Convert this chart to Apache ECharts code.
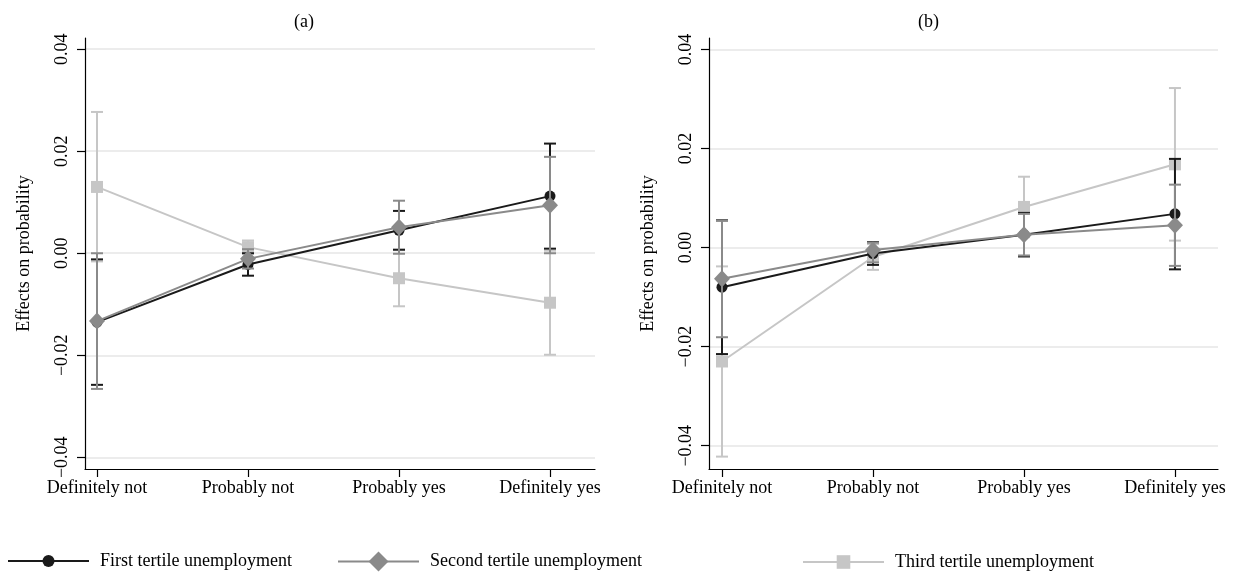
<!DOCTYPE html>
<html>
<head>
<meta charset="utf-8">
<script src="https://cdn.jsdelivr.net/npm/echarts@6/dist/echarts.min.js"></script>
<style>html,body{margin:0;padding:0;background:#fff;}#c{width:1241px;height:579px;}</style>
</head>
<body>
<div id="c"></div>
<script>
// ---- data ----
const categories = ['Definitely not', 'Probably not', 'Probably yes', 'Definitely yes'];
const yTicks = [-0.04, -0.02, 0.00, 0.02, 0.04];
const seriesNames = ['First tertile unemployment', 'Second tertile unemployment', 'Third tertile unemployment'];

// Panel (a)
const a_first    = [-0.0135, -0.0022, 0.0045, 0.0112];
const a_first_lo = [-0.0258, -0.0044, 0.0007, 0.0009];
const a_first_hi = [-0.0012,  0.0000, 0.0083, 0.0215];
const a_second    = [-0.0133, -0.0011, 0.0051, 0.0094];
const a_second_lo = [-0.0266, -0.0030, -0.0001, 0.0000];
const a_second_hi = [ 0.0000,  0.0008, 0.0103, 0.0189];
const a_third    = [ 0.0130,  0.0012, -0.0049, -0.0097];
const a_third_lo = [-0.0016, -0.0001, -0.0104, -0.0199];
const a_third_hi = [ 0.0277,  0.0025,  0.0006,  0.0005];

// Panel (b)
const b_first    = [-0.0080, -0.0012, 0.0026, 0.0068];
const b_first_lo = [-0.0215, -0.0035, -0.0018, -0.0044];
const b_first_hi = [ 0.0055,  0.0011,  0.0070,  0.0179];
const b_second    = [-0.0063, -0.0005, 0.0026, 0.0045];
const b_second_lo = [-0.0181, -0.0030, -0.0016, -0.0037];
const b_second_hi = [ 0.0054,  0.0010,  0.0068,  0.0127];
const b_third    = [-0.0230, -0.0019, 0.0082, 0.0168];
const b_third_lo = [-0.0422, -0.0045, 0.0021, 0.0014];
const b_third_hi = [-0.0038,  0.0007, 0.0143, 0.0322];

// ---- styles ----
const FONT = 'Liberation Serif';
const FS = 18;
const colors = ['#1a1a1a', '#8a8a8a', '#c6c6c6'];
const symbols = ['circle', 'diamond', 'rect'];
const symSizes = [11, [16, 17], 12];
const zs = [4, 6, 2];

const chart = echarts.init(document.getElementById('c'), null, {renderer: 'canvas'});

function fmtY(v) {
  const s = Math.abs(v).toFixed(2);
  return (v < -1e-9 ? '\u2212' : '') + s;
}

function xAxisDef(idx, min, max) {
  return {
    type: 'value', gridIndex: idx, min: min, max: max,
    axisLine: {show: true, onZero: false, lineStyle: {color: '#000', width: 1.2}},
    axisTick: {show: true, customValues: [1, 2, 3, 4], length: 8, lineStyle: {color: '#000', width: 1.2}},
    axisLabel: {customValues: [1, 2, 3, 4], formatter: v => categories[Math.round(v) - 1],
      fontFamily: FONT, fontSize: FS, color: '#000', margin: 10},
    splitLine: {show: false}
  };
}
function yAxisDef(idx, min, max) {
  return {
    type: 'value', gridIndex: idx, min: min, max: max,
    name: 'Effects on probability', nameLocation: 'middle', nameGap: 52,
    nameTextStyle: {fontFamily: FONT, fontSize: FS, color: '#000'},
    axisLine: {show: true, lineStyle: {color: '#000', width: 1.2}},
    axisTick: {show: true, customValues: yTicks, length: 8, lineStyle: {color: '#000', width: 1.2}},
    axisLabel: {customValues: yTicks, formatter: fmtY, rotate: 90,
      fontFamily: FONT, fontSize: FS, color: '#000', margin: 14},
    splitLine: {show: false}
  };
}

function errSeries(idx, k, lo, hi) {
  const col = colors[k];
  return {
    type: 'custom', xAxisIndex: idx, yAxisIndex: idx, z: zs[k] - 1, silent: true,
    data: lo.map((l, i) => [i + 1, l, hi[i]]),
    encode: {x: 0, y: [1, 2]},
    renderItem: function (params, api) {
      const x = api.value(0);
      const p1 = api.coord([x, api.value(1)]);
      const p2 = api.coord([x, api.value(2)]);
      const w = 6;
      const st = {stroke: col, lineWidth: 2};
      return {type: 'group', children: [
        {type: 'line', shape: {x1: p1[0], y1: p1[1], x2: p2[0], y2: p2[1]}, style: st},
        {type: 'line', shape: {x1: p1[0] - w, y1: p1[1], x2: p1[0] + w, y2: p1[1]}, style: st},
        {type: 'line', shape: {x1: p2[0] - w, y1: p2[1], x2: p2[0] + w, y2: p2[1]}, style: st}
      ]};
    }
  };
}
function lineSeries(idx, k, vals) {
  return {
    type: 'line', name: seriesNames[k], xAxisIndex: idx, yAxisIndex: idx, z: zs[k],
    data: vals.map((v, i) => [i + 1, v]),
    symbol: symbols[k], symbolSize: symSizes[k], showSymbol: true,
    lineStyle: {color: colors[k], width: 2},
    itemStyle: {color: colors[k], borderWidth: 0},
    emphasis: {disabled: true}, animation: false
  };
}
function gridLines(idx) {
  return {
    type: 'line', xAxisIndex: idx, yAxisIndex: idx, data: [], z: 0, silent: true,
    markLine: {silent: true, symbol: 'none', z: 0, animation: false,
      label: {show: false},
      lineStyle: {color: '#e6e6e6', width: 1.5, type: 'solid'},
      data: yTicks.map(v => ({yAxis: v}))}
  };
}

const series = [gridLines(0), gridLines(1)];
const panels = [
  [[a_first, a_first_lo, a_first_hi], [a_second, a_second_lo, a_second_hi], [a_third, a_third_lo, a_third_hi]],
  [[b_first, b_first_lo, b_first_hi], [b_second, b_second_lo, b_second_hi], [b_third, b_third_lo, b_third_hi]]
];
panels.forEach((p, idx) => {
  p.forEach((d, k) => {
    series.push(errSeries(idx, k, d[1], d[2]));
    series.push(lineSeries(idx, k, d[0]));
  });
});

const legendLefts = [7, 337, 802];
const legendHeights = [15, 25, 17];
const legendTops = [552, 551.5, 553];
const option = {
  animation: false,
  backgroundColor: '#fff',
  title: [
    {text: '(a)', left: 289, top: 8, textStyle: {fontFamily: FONT, fontSize: FS, fontWeight: 'normal', color: '#000'}},
    {text: '(b)', left: 913, top: 8, textStyle: {fontFamily: FONT, fontSize: FS, fontWeight: 'normal', color: '#000'}}
  ],
  legend: seriesNames.map((n, k) => ({
    data: [n], left: legendLefts[k], top: legendTops[k],
    itemWidth: 81, itemHeight: legendHeights[k], padding: 0,
    selectedMode: false,
    textStyle: {fontFamily: FONT, fontSize: FS, color: '#000', padding: [0, 0, 0, 6]}
  })),
  grid: [
    {left: 85, right: 646, top: 38, bottom: 110},
    {left: 709, right: 23, top: 38, bottom: 110}
  ],
  xAxis: [xAxisDef(0, 0.9205, 4.298), xAxisDef(1, 0.914, 4.285)],
  yAxis: [yAxisDef(0, -0.0423, 0.0422), yAxisDef(1, -0.0447, 0.0423)],
  series: series
};
chart.setOption(option);
</script>
</body>
</html>
